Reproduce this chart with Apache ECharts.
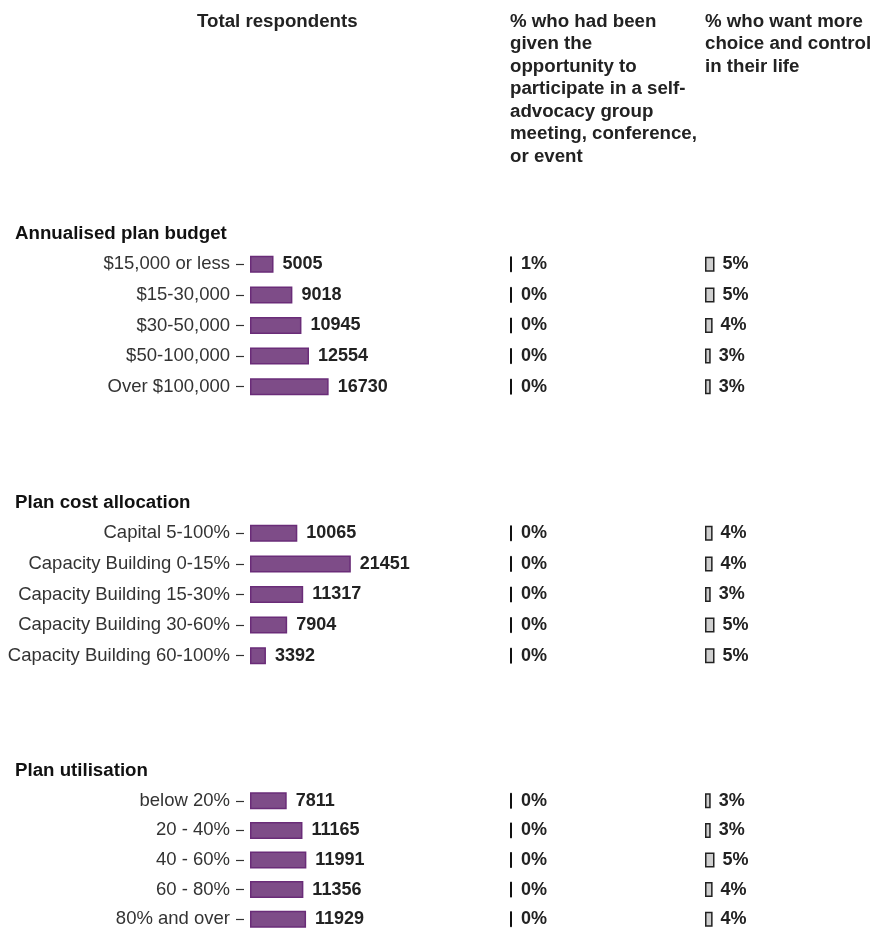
<!DOCTYPE html>
<html>
<head>
<meta charset="utf-8">
<script src="https://cdn.jsdelivr.net/npm/echarts@6/dist/echarts.min.js"></script>
<style>
  html, body { margin: 0; padding: 0; background: #fff; }
  #chart { width: 873px; height: 934px; }
</style>
</head>
<body>
<div id="chart"></div>
<script>
const groupTitles = ["Annualised plan budget", "Plan cost allocation", "Plan utilisation"];
const categories = [
  ["$15,000 or less", "$15-30,000", "$30-50,000", "$50-100,000", "Over $100,000"],
  ["Capital 5-100%", "Capacity Building 0-15%", "Capacity Building 15-30%", "Capacity Building 30-60%", "Capacity Building 60-100%"],
  ["below 20%", "20 - 40%", "40 - 60%", "60 - 80%", "80% and over"],
];
const totalRespondents = [
  [5005, 9018, 10945, 12554, 16730],
  [10065, 21451, 11317, 7904, 3392],
  [7811, 11165, 11991, 11356, 11929],
];
const pctSelfAdvocacy = [
  [1, 0, 0, 0, 0],
  [0, 0, 0, 0, 0],
  [0, 0, 0, 0, 0],
];
const pctMoreChoice = [
  [5, 5, 4, 3, 3],
  [4, 4, 3, 5, 5],
  [3, 3, 5, 4, 4],
];

const FONT = "Liberation Sans, Arial, sans-serif";
const groupTops = [249, 518, 786];
const rowH = 30.6;
const columns = [
  { left: 250, width: 141, max: 30000, data: totalRespondents, fill: "#7e4c88", border: "#6a2c78", bw: 1.5, barW: 17, minH: 0, dist: 9, fmt: v => v },
  { left: 510, width: 95, max: 50, data: pctSelfAdvocacy, fill: "#111", border: "#111", bw: 1, barW: 16, minH: 2, dist: 9, fmt: v => v + "%" },
  { left: 705, width: 95, max: 50, data: pctMoreChoice, fill: "#cfcfcf", border: "#222", bw: 1.5, barW: 15, minH: 2, dist: 8, fmt: v => v + "%" },
];

const grid = [], xAxis = [], yAxis = [], series = [];
groupTops.forEach((top, g) => {
  columns.forEach((col, c) => {
    const idx = grid.length;
    grid.push({ left: col.left, top: top, width: col.width, height: rowH * 5 });
    xAxis.push({ gridIndex: idx, type: "value", min: 0, max: col.max, show: false });
    yAxis.push({
      gridIndex: idx,
      type: "category",
      inverse: true,
      data: categories[g],
      show: c === 0,
      axisLine: { show: false },
      // gap of 6px next to the bars, then an 8px tick
      axisTick: { show: true, alignWithLabel: true, length: 14, lineStyle: { color: "#333", width: 1.2, type: [8, 6], dashOffset: 8 } },
      axisLabel: { margin: 20, fontSize: 18.5, color: "#333", fontFamily: FONT },
    });
    series.push({
      type: "bar",
      xAxisIndex: idx,
      yAxisIndex: idx,
      data: col.data[g],
      barWidth: col.barW,
      barMinHeight: col.minH,
      itemStyle: { color: col.fill, borderColor: col.border, borderWidth: col.bw },
      label: {
        show: true,
        position: "right",
        distance: col.dist,
        fontSize: 18,
        fontWeight: "bold",
        color: "#222",
        fontFamily: FONT,
        formatter: p => col.fmt(p.value),
      },
      silent: true,
    });
  });
});

const headerStyle = { fontSize: 18.7, fontWeight: "bold", color: "#222", fontFamily: FONT, lineHeight: 22.5 };
const titles = [
  { text: "Total respondents", left: 197, top: 10.5, padding: 0, textStyle: headerStyle },
  { text: "% who had been\ngiven the\nopportunity to\nparticipate in a self-\nadvocacy group\nmeeting, conference,\nor event", left: 510, top: 10.5, padding: 0, textStyle: headerStyle },
  { text: "% who want more\nchoice and control\nin their life", left: 705, top: 10.5, padding: 0, textStyle: headerStyle },
];
groupTitles.forEach((t, g) => {
  titles.push({ text: t, left: 15, top: groupTops[g] - 25, padding: 0, textStyle: { fontSize: 18.7, fontWeight: "bold", color: "#111", fontFamily: FONT } });
});

const myChart = echarts.init(document.getElementById("chart"));
myChart.setOption({
  animation: false,
  title: titles,
  grid: grid,
  xAxis: xAxis,
  yAxis: yAxis,
  series: series,
});
</script>
</body>
</html>
